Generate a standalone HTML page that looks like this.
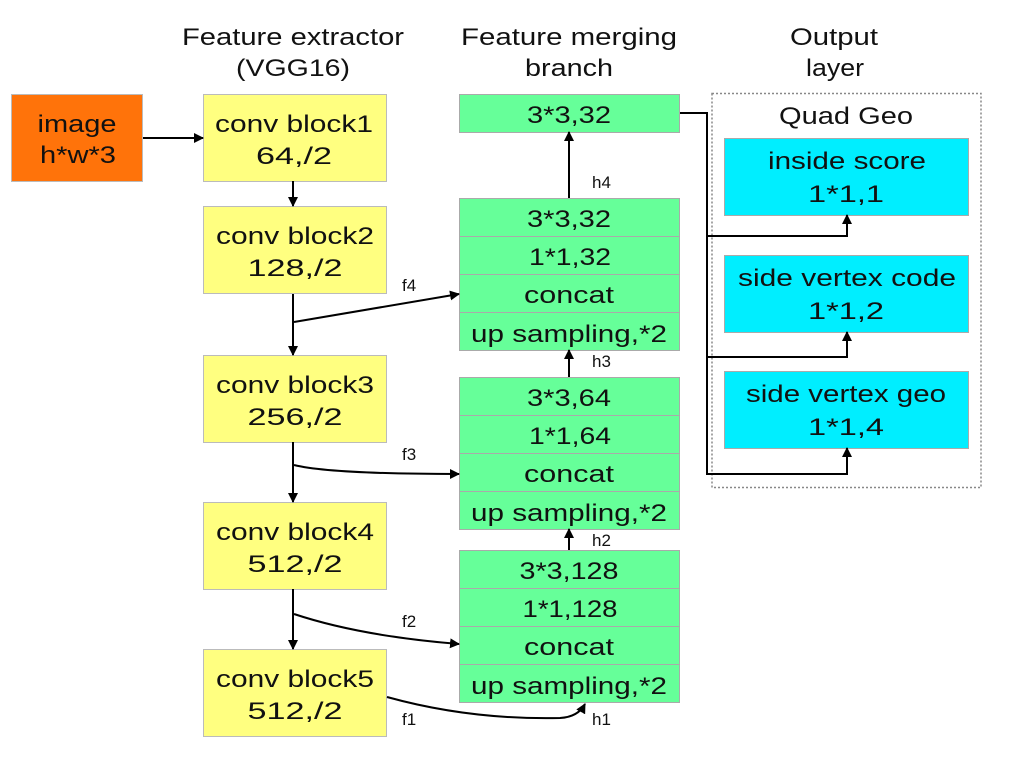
<!DOCTYPE html>
<html><head><meta charset="utf-8"><style>
html,body{margin:0;padding:0;background:#fff;}
svg{display:block;}
text{font-family:"Liberation Sans",sans-serif;fill:#111;}
</style></head><body>
<svg width="1027" height="766" viewBox="0 0 1027 766" xmlns="http://www.w3.org/2000/svg">
<defs>
<marker id="a" markerWidth="10" markerHeight="10" refX="9" refY="5" orient="auto" markerUnits="userSpaceOnUse">
<path d="M0,0 L10,5 L0,10 z" fill="#000"/></marker>
</defs>
<g font-size="24" text-anchor="middle" lengthAdjust="spacingAndGlyphs">
<text x="293" y="45" textLength="222" lengthAdjust="spacingAndGlyphs">Feature extractor</text>
<text x="293" y="76" textLength="114" lengthAdjust="spacingAndGlyphs">(VGG16)</text>
<text x="569" y="45" textLength="216" lengthAdjust="spacingAndGlyphs">Feature merging</text>
<text x="569" y="76" textLength="88" lengthAdjust="spacingAndGlyphs">branch</text>
<text x="834" y="45" textLength="88" lengthAdjust="spacingAndGlyphs">Output</text>
<text x="835" y="76" textLength="58" lengthAdjust="spacingAndGlyphs">layer</text>
</g>
<rect x="11.5" y="94.5" width="131" height="87" fill="#FF730A" stroke="#bbb"/>
<g font-size="24" text-anchor="middle">
<text x="77" y="132" textLength="79" lengthAdjust="spacingAndGlyphs">image</text>
<text x="78" y="163" textLength="76" lengthAdjust="spacingAndGlyphs">h*w*3</text>
</g>
<g fill="#FFFF80" stroke="#bbb">
<rect x="203.5" y="94.5" width="183" height="87"/>
<rect x="203.5" y="206.5" width="183" height="87"/>
<rect x="203.5" y="355.5" width="183" height="87"/>
<rect x="203.5" y="502.5" width="183" height="87"/>
<rect x="203.5" y="649.5" width="183" height="87"/>
</g>
<g font-size="24" text-anchor="middle">
<text x="294" y="132" textLength="158" lengthAdjust="spacingAndGlyphs">conv block1</text><text x="294" y="164" textLength="76" lengthAdjust="spacingAndGlyphs">64,/2</text>
<text x="295" y="244" textLength="158" lengthAdjust="spacingAndGlyphs">conv block2</text><text x="295" y="276" textLength="95" lengthAdjust="spacingAndGlyphs">128,/2</text>
<text x="295" y="393" textLength="158" lengthAdjust="spacingAndGlyphs">conv block3</text><text x="295" y="425" textLength="95" lengthAdjust="spacingAndGlyphs">256,/2</text>
<text x="295" y="540" textLength="158" lengthAdjust="spacingAndGlyphs">conv block4</text><text x="295" y="572" textLength="95" lengthAdjust="spacingAndGlyphs">512,/2</text>
<text x="295" y="687" textLength="158" lengthAdjust="spacingAndGlyphs">conv block5</text><text x="295" y="719" textLength="95" lengthAdjust="spacingAndGlyphs">512,/2</text>
</g>
<g fill="#66FF99" stroke="#aaa">
<rect x="459.5" y="94.5" width="220" height="38"/>
<rect x="459.5" y="198.5" width="220" height="38"/><rect x="459.5" y="236.5" width="220" height="38"/><rect x="459.5" y="274.5" width="220" height="38"/><rect x="459.5" y="312.5" width="220" height="38"/>
<rect x="459.5" y="377.5" width="220" height="38"/><rect x="459.5" y="415.5" width="220" height="38"/><rect x="459.5" y="453.5" width="220" height="38"/><rect x="459.5" y="491.5" width="220" height="38"/>
<rect x="459.5" y="550.5" width="220" height="38"/><rect x="459.5" y="588.5" width="220" height="38"/><rect x="459.5" y="626.5" width="220" height="38"/><rect x="459.5" y="664.5" width="220" height="38"/>
</g>
<g font-size="24" text-anchor="middle">
<text x="569" y="123" textLength="84" lengthAdjust="spacingAndGlyphs">3*3,32</text>
<text x="569" y="227" textLength="84" lengthAdjust="spacingAndGlyphs">3*3,32</text><text x="570" y="265" textLength="82" lengthAdjust="spacingAndGlyphs">1*1,32</text><text x="569" y="303" textLength="90" lengthAdjust="spacingAndGlyphs">concat</text><text x="569" y="342" textLength="196" lengthAdjust="spacingAndGlyphs">up sampling,*2</text>
<text x="569" y="406" textLength="84" lengthAdjust="spacingAndGlyphs">3*3,64</text><text x="570" y="444" textLength="82" lengthAdjust="spacingAndGlyphs">1*1,64</text><text x="569" y="482" textLength="90" lengthAdjust="spacingAndGlyphs">concat</text><text x="569" y="521" textLength="196" lengthAdjust="spacingAndGlyphs">up sampling,*2</text>
<text x="569" y="579" textLength="99" lengthAdjust="spacingAndGlyphs">3*3,128</text><text x="570" y="617" textLength="95" lengthAdjust="spacingAndGlyphs">1*1,128</text><text x="569" y="655" textLength="90" lengthAdjust="spacingAndGlyphs">concat</text><text x="569" y="694" textLength="196" lengthAdjust="spacingAndGlyphs">up sampling,*2</text>
</g>
<rect x="712" y="93.5" width="269" height="394" fill="none" stroke="#888" stroke-width="1.5" stroke-dasharray="2,2"/>
<text x="846" y="124" font-size="24" text-anchor="middle" textLength="134" lengthAdjust="spacingAndGlyphs">Quad Geo</text>
<g fill="#00EEFF" stroke="#aaa">
<rect x="724.5" y="138.5" width="244" height="77"/>
<rect x="724.5" y="255.5" width="244" height="77"/>
<rect x="724.5" y="371.5" width="244" height="77"/>
</g>
<g font-size="24" text-anchor="middle">
<text x="847" y="169" textLength="158" lengthAdjust="spacingAndGlyphs">inside score</text><text x="846" y="202" textLength="76" lengthAdjust="spacingAndGlyphs">1*1,1</text>
<text x="847" y="286" textLength="218" lengthAdjust="spacingAndGlyphs">side vertex code</text><text x="846" y="319" textLength="76" lengthAdjust="spacingAndGlyphs">1*1,2</text>
<text x="846" y="402" textLength="200" lengthAdjust="spacingAndGlyphs">side vertex geo</text><text x="846" y="435" textLength="76" lengthAdjust="spacingAndGlyphs">1*1,4</text>
</g>
<g stroke="#000" stroke-width="2" fill="none">
<line x1="143" y1="138" x2="203" y2="138" marker-end="url(#a)"/>
<line x1="293" y1="181" x2="293" y2="206" marker-end="url(#a)"/>
<line x1="293" y1="294" x2="293" y2="355" marker-end="url(#a)"/>
<line x1="293" y1="442" x2="293" y2="502" marker-end="url(#a)"/>
<line x1="293" y1="589" x2="293" y2="649" marker-end="url(#a)"/>
<line x1="294" y1="322" x2="459" y2="294" marker-end="url(#a)"/>
<path d="M294,465 Q330,474 459,474" marker-end="url(#a)"/>
<path d="M294,614 Q360,636 459,644" marker-end="url(#a)"/>
<path d="M387,697 Q470,720 560,718 Q578,717 585,704" marker-end="url(#a)"/>
<line x1="569" y1="198" x2="569" y2="132" marker-end="url(#a)"/>
<line x1="569" y1="377" x2="569" y2="350" marker-end="url(#a)"/>
<line x1="569" y1="550" x2="569" y2="529" marker-end="url(#a)"/>
<path d="M680,113 L707,113 L707,474 L847,474 L847,448" marker-end="url(#a)"/>
<path d="M707,236 L847,236 L847,215" marker-end="url(#a)"/>
<path d="M707,357 L847,357 L847,332" marker-end="url(#a)"/>
</g>
<g font-size="17" fill="#333">
<text x="402" y="291">f4</text>
<text x="402" y="460">f3</text>
<text x="402" y="627">f2</text>
<text x="402" y="725">f1</text>
<text x="592" y="188">h4</text>
<text x="592" y="367">h3</text>
<text x="592" y="546">h2</text>
<text x="592" y="725">h1</text>
</g>
</svg>
</body></html>
